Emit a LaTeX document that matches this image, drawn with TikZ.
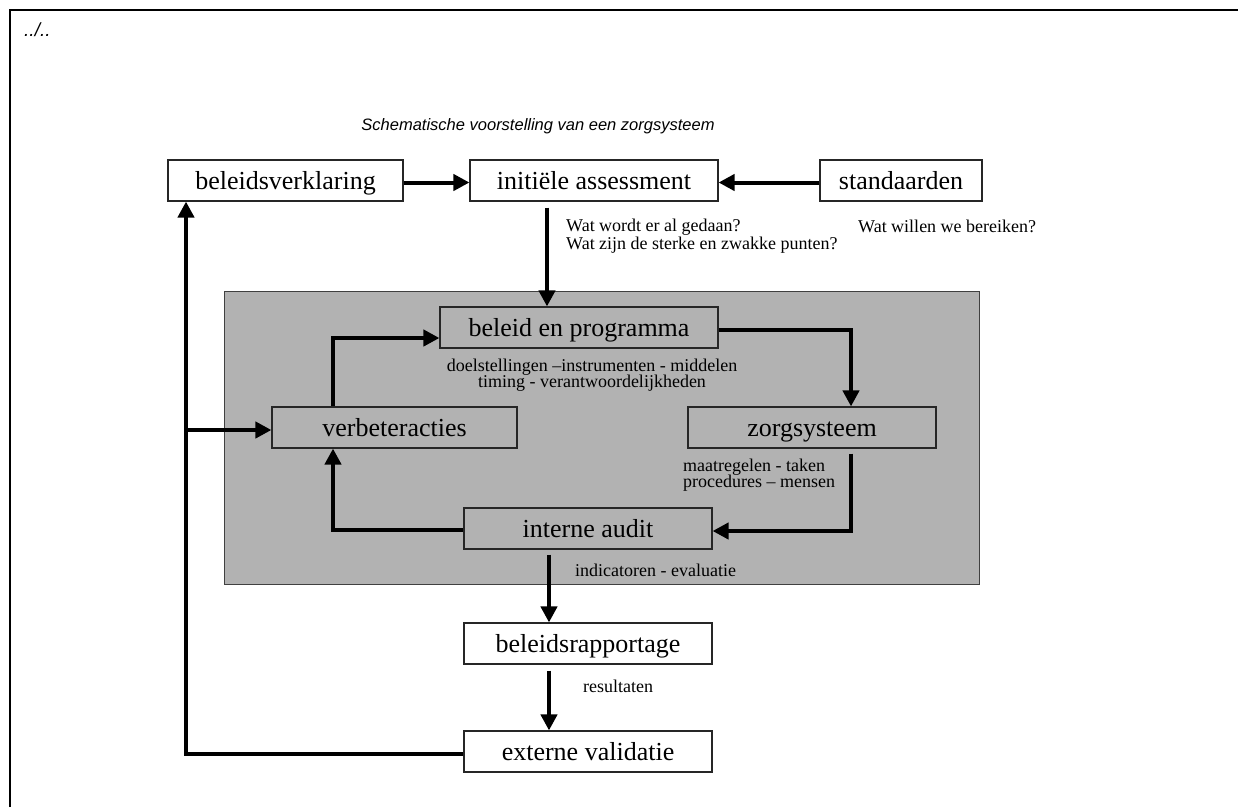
\documentclass[tikz,border=0pt]{standalone}
\usepackage{fontspec}
\setmainfont{Liberation Serif}
\newfontfamily\arialfont{Liberation Sans}
\usetikzlibrary{arrows.meta}
\lineskiplimit=-100pt

\begin{document}
\begin{tikzpicture}[x=1pt, y=-1pt]

\tikzset{BoxStyle/.style = {draw=black!85, line width=1.1pt, fill=white, minimum height=41pt, inner sep=0pt, text height=20pt, text depth=3pt, font=\fontsize{26}{30}\selectfont}}
\tikzset{GrayBoxStyle/.style = {BoxStyle, fill=black!30}}
\tikzset{FlowStyle/.style = {line width=4pt, -{Triangle[length=16pt, width=16pt]}}}
\tikzset{NoteStyle/.style = {inner sep=0pt, font=\fontsize{18}{16}\selectfont}}

\useasboundingbox (0,0) rectangle (1238,807);
\draw[line width=2.5pt] (10,807) -- (10,10) -- (1238,10);

\node[anchor=west, inner sep=0pt, font=\arialfont\itshape\fontsize{19}{22}\selectfont] (page) at (24,30) {../..};
\node[font=\arialfont\itshape\fontsize{16.5}{19}\selectfont] (title) at (538,126) {Schematische voorstelling van een zorgsysteem};

% gray core
\fill[black!30, draw=black!75, line width=1pt] (224,291) rectangle (979,584);

\node[BoxStyle, minimum width=235pt] (verkl) at (285.5,180.5) {beleidsverklaring};
\node[BoxStyle, minimum width=248pt] (assess) at (594,180.5) {initiële assessment};
\node[BoxStyle, minimum width=162pt] (stand) at (901,180.5) {standaarden};

\node[GrayBoxStyle, minimum width=278pt] (beleid) at (579,327.5) {beleid en programma};
\node[GrayBoxStyle, minimum width=245pt] (verbeter) at (394.5,427.5) {verbeteracties};
\node[GrayBoxStyle, minimum width=248pt] (zorg) at (812,427.5) {zorgsysteem};
\node[GrayBoxStyle, minimum width=248pt] (audit) at (588,528.5) {interne audit};

\node[BoxStyle, minimum width=248pt] (rapport) at (588,643.5) {beleidsrapportage};
\node[BoxStyle, minimum width=248pt] (valid) at (588,751.5) {externe validatie};

\node[NoteStyle, anchor=west, align=left, font=\fontsize{18}{18}\selectfont] (vragen) at (566,236) {Wat wordt er al gedaan?\\Wat zijn de sterke en zwakke punten?};
\node[NoteStyle, anchor=west] (doel) at (858,226) {Wat willen we bereiken?};
\node[NoteStyle, align=center] (middelen) at (592,375) {doelstellingen –instrumenten - middelen\\timing - verantwoordelijkheden};
\node[NoteStyle, anchor=west, align=left] (taken) at (683,475) {maatregelen - taken\\procedures – mensen};
\node[NoteStyle, anchor=west] (indic) at (575,570) {indicatoren - evaluatie};
\node[NoteStyle, anchor=west] (result) at (583,686) {resultaten};

\coordinate (split) at (186,430);

\draw[FlowStyle] ([yshift=-2pt]verkl.east) -- ([yshift=-2pt]assess.west);
\draw[FlowStyle] ([yshift=-2pt]stand.west) -- ([yshift=-2pt]assess.east);
\draw[FlowStyle] ([xshift=-47pt,yshift=-6pt]assess.south) -- ([xshift=-47pt]assess.south |- beleid.north);
\draw[FlowStyle] ([xshift=-61.5pt]verbeter.north) |- ([yshift=-10.5pt]beleid.west);
\draw[FlowStyle] ([yshift=-2.5pt]beleid.east) -| ([xshift=39pt]zorg.north);
\draw[FlowStyle] ([xshift=39pt,yshift=-5pt]zorg.south) |- ([yshift=-2.5pt]audit.east);
\draw[FlowStyle] ([yshift=-1.5pt]audit.west) -| ([xshift=-61.5pt]verbeter.south);
\draw[FlowStyle] ([xshift=-39pt,yshift=-5pt]audit.south) -- ([xshift=-39pt]rapport.north);
\draw[FlowStyle] ([xshift=-39pt,yshift=-6pt]rapport.south) -- ([xshift=-39pt]valid.north);
\draw[FlowStyle] ([yshift=-2.5pt]valid.west) -| ([xshift=-99.5pt]verkl.south);
\draw[FlowStyle] (split) -- (split -| verbeter.west);

\end{tikzpicture}
\end{document}
